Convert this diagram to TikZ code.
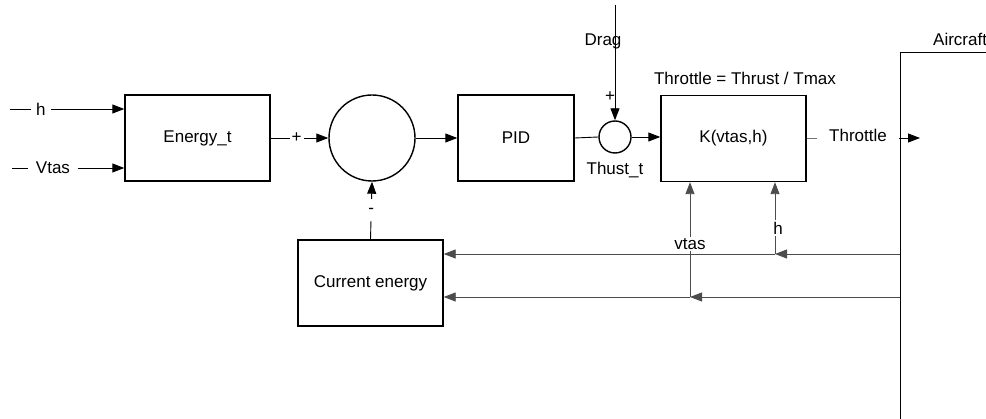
\documentclass[tikz,border=0pt]{standalone}
\usepackage{fontspec}
\setmainfont{Liberation Sans}
\usetikzlibrary{arrows.meta}
\begin{document}
\begin{tikzpicture}[x=1pt,y=-1pt,
  every node/.style={font=\fontsize{17}{20}\selectfont},
  blockbox/.style={draw, line width=1.4pt, inner sep=0pt, minimum width=145pt, minimum height=86pt},
  sumnode/.style={draw, circle, line width=1.4pt, inner sep=0pt},
  conn/.style={line width=0.9pt, -{Triangle[length=12pt,width=9pt]}},
  plainline/.style={line width=0.9pt},
  fb/.style={line width=0.9pt, draw=black!70, -{Triangle[length=12pt,width=9pt]}},
  lab/.style={fill=white, inner sep=2pt}
]
\clip (0,0) rectangle (986,419);
\fill[white] (0,0) rectangle (986,419);

% blocks
\node[blockbox] (energy) at (197.5,138) {Energy\_t};
\node[sumnode, minimum size=86pt] (sum) at (372,138) {};
\node[blockbox, minimum width=116pt] (pid) at (516,138) {PID};
\node[sumnode, minimum size=32pt] (thr) at (615,137) {};
\node[blockbox] (kbox) at (733.5,138.5) {K(vtas,h)};
\node[blockbox] (cur) at (370.5,283) {Current energy};
\node[draw, line width=1.4pt, minimum width=120pt, minimum height=400pt, anchor=north west, inner sep=0pt] (air) at (900,52) {};
\node[anchor=south west, inner sep=0pt] (airlab) at (933,46) {Aircraft};
\node (eq) at (745,78) {Throttle = Thrust / Tmax};

% inputs
\coordinate (hin) at (10,109);
\coordinate (vin) at (12,168);
\draw[conn] (hin) -- (energy.west |- hin) node[lab, pos=0.27, inner xsep=5pt] (hlab) {h};
\draw[conn] (vin) -- (energy.west |- vin) node[lab, pos=0.365, inner xsep=8pt] (vlab) {Vtas};

% forward path
\draw[conn] (energy.east) -- (sum.west) node[lab, pos=0.45, inner sep=2pt] (plus1) {+};
\draw[conn] (sum.east) -- (pid.west);
\draw[plainline] (pid.east) -- (thr.west);
\draw[conn] (thr.east) -- (kbox.west |- thr.east);
\coordinate (dragtop) at (615,5);
\draw[conn] (dragtop) -- (thr.north);
\node (draglab) at (603,41) {Drag};
\node[inner sep=0pt] (plus2) at (610,97) {+};
\node (thlab) at (615,170) {Thust\_t};

% throttle output
\coordinate (thrtip) at (920,138);
\draw[conn] (kbox.east |- thrtip) -- (thrtip);
\draw[plainline, draw=black!55] (kbox.east |- thrtip) -- (817,138);
\node[fill=white, minimum width=82pt, minimum height=24pt, inner sep=0pt] (thrlab) at (858,135.5) {Throttle};

% feedback to sum
\draw[conn] (cur.north) -- (sum.south) node[lab, pos=0.5, inner sep=0pt, minimum height=22pt, minimum width=8pt] (minus) {-};

% feedback paths
\coordinate (ah) at (900,254);
\coordinate (av) at (900,297);
\coordinate (jh) at (775,254);
\coordinate (jv) at (690,297);
\draw[fb] (jv) -- (kbox.south -| jv);
\node[lab, inner sep=1.5pt] (vtaslab) at (690,244) {vtas};
\draw[fb] (jh) -- (kbox.south -| jh);
\node[lab, inner sep=1.5pt] (hfb) at (778,228) {h};
\draw[fb] (ah) -- (jh);
\draw[fb] (jh) -- (cur.east |- jh);
\draw[fb] (av) -- (jv);
\draw[fb] (jv) -- (cur.east |- jv);
\end{tikzpicture}
\end{document}
